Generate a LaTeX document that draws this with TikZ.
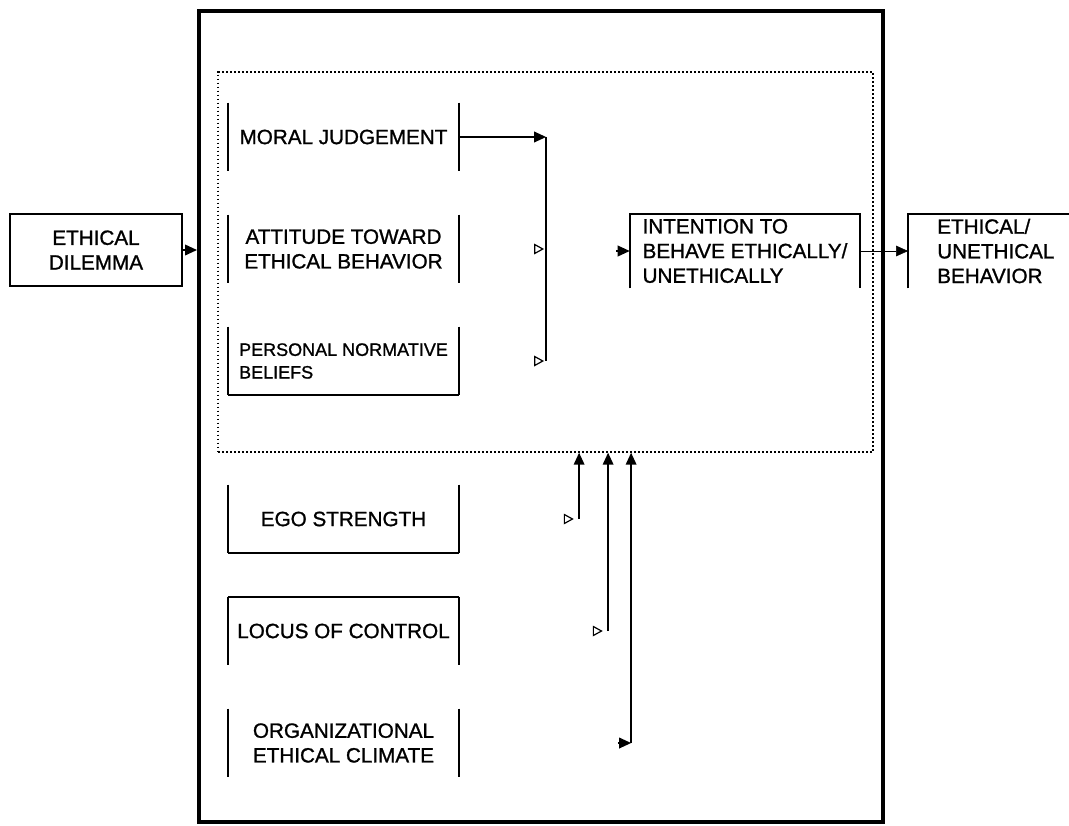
\documentclass[tikz,border=0pt]{standalone}
\usepackage{fontspec}
\setmainfont{Liberation Sans}
\newfontfamily\lblfont{Liberation Sans}[FakeBold = 1.1]
\usetikzlibrary{arrows.meta, positioning}

\begin{document}
\begin{tikzpicture}[
        x = 0.75pt, y = -0.75pt,
        node distance = 84pt,
        on grid,
        >= {Triangle[length = 9pt, width = 8pt]},
        every node/.style = {font = \lblfont\fontsize{15.5}{18.5}\selectfont},
        factor/.style = {minimum width = 173pt, minimum height = 51pt, inner sep = 0pt, align = center},
        side/.style = {line width = 1.2pt},
        frame/.style = {draw, line width = 3pt, minimum width = 513pt, minimum height = 608pt, inner sep = 0pt},
        core/.style = {draw, line width = 1.1pt, dash pattern = on 1.1pt off 1.9pt, minimum width = 491pt, minimum height = 285pt, inner sep = 0pt},
        stub/.style = {-{Triangle[open, length = 7.5pt, width = 8pt]}, line width = 0.9pt}
    ]

    \useasboundingbox (0,0) rectangle (1069,825);

    \node[frame] (sys) at (541,416.5) {};
    \node[core] (core) at (545.5,262) {};

    \node[factor, draw, line width = 1pt, minimum width = 129pt, minimum height = 54pt] (ed) at (96,250) {ETHICAL\\DILEMMA};

    \node[factor] (mj) at (343.5,137) {MORAL JUDGEMENT};
    \node[factor] (att) [below = of mj] {ATTITUDE TOWARD\\ETHICAL BEHAVIOR};
    \node[factor, align = left, font = \lblfont\fontsize{13.5}{17}\selectfont] (pnb) [below = of att] {PERSONAL NORMATIVE\\BELIEFS};
    \node[factor] (ego) [below = 118.5pt of pnb] {EGO STRENGTH};
    \node[factor] (loc) [below = of ego] {LOCUS OF CONTROL};
    \node[factor] (org) [below = of loc] {ORGANIZATIONAL\\ETHICAL CLIMATE};

    \node[factor, align = left, minimum width = 172.5pt, minimum height = 55.5pt] (int) at (745,251) {INTENTION TO\\BEHAVE ETHICALLY/\\UNETHICALLY};
    \node[factor, align = left, anchor = west, minimum width = 0pt, inner xsep = 21.75pt, minimum height = 55.5pt] (eb) at (908,251) {ETHICAL/\\UNETHICAL\\BEHAVIOR};
    \coordinate (edge) at (1069,214);

    % box sides
    \foreach \f in {mj, att, pnb, ego, loc, org}
        \draw[side] (\f.north west) -- (\f.south west) (\f.north east) -- (\f.south east);
    \draw[side] (pnb.south west) -- (pnb.south east);
    \draw[side] (ego.south west) -- (ego.south east);
    \draw[side] (loc.north west) -- (loc.north east);
    \draw[side] (int.south west) |- (int.north east) -- (int.south east);
    \draw[side] (eb.south west) -- (eb.north west) -- (eb.north west -| edge);

    % upper block
    \coordinate (bus) at ([xshift = 65.25pt]mj.east);
    \draw[->, side] (ed) -- (ed -| sys.west);
    \draw[->, side] (mj.east) -- (bus);
    \draw[side] (bus) -- (bus |- pnb);
    \draw[stub] ([xshift = -9pt]bus |- att) -- ([xshift = -1.5pt]bus |- att);
    \draw[stub] ([xshift = -9pt]bus |- pnb) -- ([xshift = -1.5pt]bus |- pnb);
    \draw[->, side] ([xshift = -10pt]int.west) -- (int.west);
    \draw[->, thin] (int.east) -- (eb.west);

    % moderators
    \coordinate (e1) at ([xshift = 90pt]ego.east);
    \coordinate (l1) at ([xshift = 111.75pt]loc.east);
    \coordinate (o1) at ([xshift = 129pt]org.east);
    \draw[stub] ([xshift = -11.5pt]e1) -- ([xshift = -4pt]e1);
    \draw[stub] ([xshift = -11.5pt]l1) -- ([xshift = -4pt]l1);
    \draw[->, side] ([xshift = -10pt]o1) -- (o1);
    \draw[->, side] (e1) -- (e1 |- core.south);
    \draw[->, side] (l1) -- (l1 |- core.south);
    \draw[->, side] (o1) -- (o1 |- core.south);
\end{tikzpicture}
\end{document}
